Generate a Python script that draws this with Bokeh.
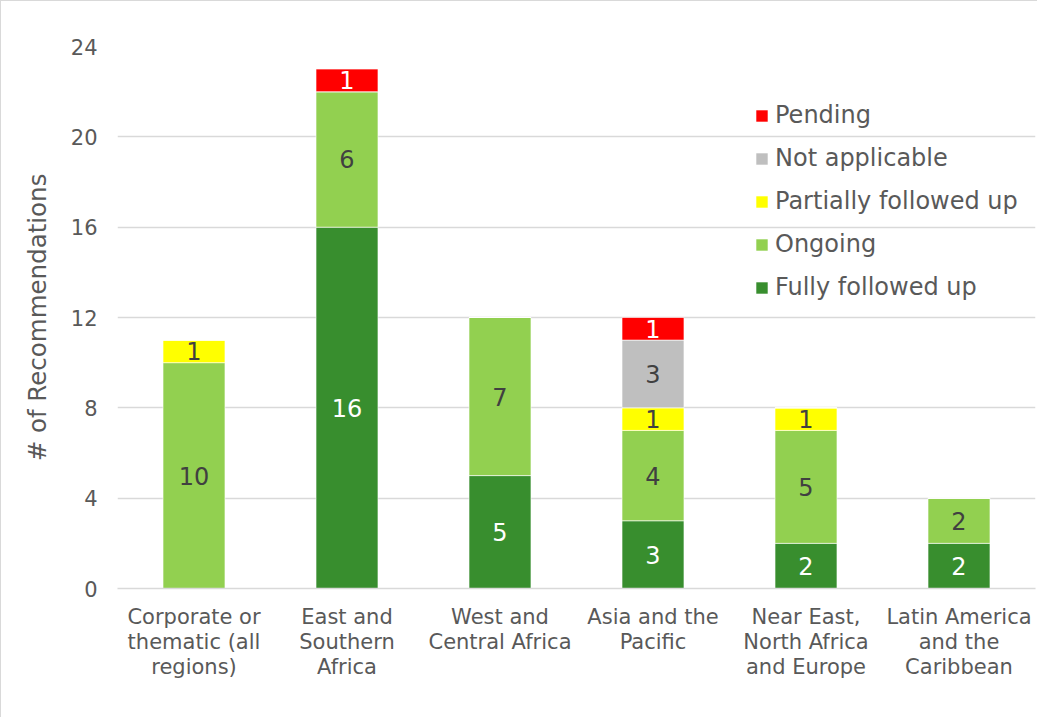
from bokeh.plotting import figure
from bokeh.models import ColumnDataSource, FactorRange, Legend, LegendItem, FixedTicker, Range1d
from bokeh.core.properties import value
from bokeh.embed import file_html
from bokeh.resources import INLINE

categories = [
    "Corporate or\nthematic (all\nregions)",
    "East and\nSouthern\nAfrica",
    "West and\nCentral Africa",
    "Asia and the\nPacific",
    "Near East,\nNorth Africa\nand Europe",
    "Latin America\nand the\nCaribbean",
]
fully = [0, 16, 5, 3, 2, 2]
ongoing = [10, 6, 7, 4, 5, 2]
partial = [1, 0, 0, 1, 1, 0]
not_applicable = [0, 0, 0, 3, 0, 0]
pending = [0, 1, 0, 1, 0, 0]
y_ticks = [0, 4, 8, 12, 16, 20, 24]

series_names = ["Fully followed up", "Ongoing", "Partially followed up", "Not applicable", "Pending"]
series_vals = [fully, ongoing, partial, not_applicable, pending]
colors = ["#388E2E", "#92D050", "#FFFF00", "#BFBFBF", "#FF0000"]
label_colors = ["#FFFFFF", "#404040", "#404040", "#404040", "#FFFFFF"]
keys = ["fully", "ongoing", "partial", "na", "pending"]

FONT = "DejaVu Sans"
GREY = "#595959"

data = {"cat": categories}
for k, v in zip(keys, series_vals):
    data[k] = v
source = ColumnDataSource(data)

p = figure(
    x_range=FactorRange(factors=categories, range_padding=0.0),
    y_range=Range1d(0, 24),
    frame_width=918, frame_height=542,
    output_backend="svg", toolbar_location=None,
    min_border_left=116, min_border_right=2, min_border_top=45, min_border_bottom=129,
)
p.x_range.factor_padding = 0.0
p.outline_line_color = None
p.background_fill_color = "white"
p.border_fill_color = "white"

renderers = p.vbar_stack(keys, x="cat", width=0.405, source=source, color=colors,
                         line_color="white", line_width=0.6)

# segment labels
lx, ly, lt, lc = [], [], [], []
for i, cat in enumerate(categories):
    base = 0
    for vals, col in zip(series_vals, label_colors):
        v = vals[i]
        if v > 0:
            lx.append(cat)
            ly.append(base + v / 2)
            lt.append(str(v))
            lc.append(col)
        base += v
lsrc = ColumnDataSource(dict(x=lx, y=ly, t=lt, c=lc))
p.text(x="x", y="y", text="t", source=lsrc, text_color="c", text_align="center",
       text_baseline="middle", text_font=value(FONT), text_font_size="24px")

# axes
p.xgrid.grid_line_color = None
p.ygrid.grid_line_color = "#D9D9D9"
p.ygrid.grid_line_width = 1.3
p.yaxis.ticker = FixedTicker(ticks=y_ticks)
p.yaxis.axis_line_color = None
p.yaxis.major_tick_line_color = None
p.yaxis.minor_tick_line_color = None
p.yaxis.major_label_standoff = 14
p.yaxis.major_label_text_font = FONT
p.yaxis.major_label_text_font_size = "21px"
p.yaxis.major_label_text_color = GREY
p.yaxis.axis_label = "# of Recommendations"
p.yaxis.axis_label_text_font = FONT
p.yaxis.axis_label_text_font_size = "24.5px"
p.yaxis.axis_label_text_font_style = "normal"
p.yaxis.axis_label_text_color = GREY
p.yaxis.axis_label_standoff = 16

p.xaxis.axis_line_color = "#D9D9D9"
p.xaxis.axis_line_width = 1.3
p.xaxis.major_tick_line_color = None
p.xaxis.minor_tick_line_color = None
p.xaxis.major_label_standoff = 10
p.xaxis.major_label_text_font = FONT
p.xaxis.major_label_text_font_size = "21px"
p.xaxis.major_label_text_line_height = 1.05
p.xaxis.major_label_text_color = GREY
p.xaxis.major_label_orientation = "horizontal"

items = [LegendItem(label=name, renderers=[r]) for name, r in zip(series_names, renderers)]
items = items[::-1]
legend = Legend(items=items, location=(637, 287), orientation="vertical",
                background_fill_alpha=0, border_line_alpha=0,
                padding=0, margin=0, spacing=15,
                glyph_width=15, glyph_height=15, label_standoff=6,
                label_text_font=FONT, label_text_font_size="24px", label_text_color=GREY,
                label_height=28)
p.add_layout(legend, "center")

p.styles = {"border-left": "1.5px solid #D9D9D9", "border-top": "1.5px solid #D9D9D9"}

open("out.html", "w").write(file_html(p, INLINE))
